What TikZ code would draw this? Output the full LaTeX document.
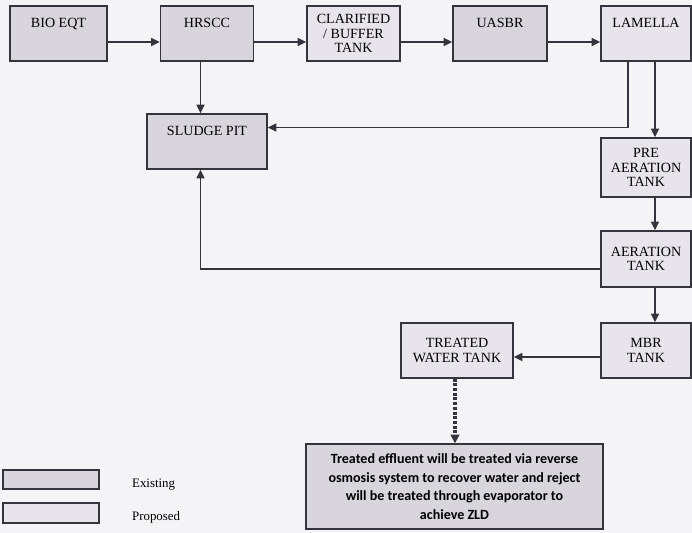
\documentclass[tikz,border=0pt]{standalone}
\usepackage{fontspec}
\setmainfont{Liberation Serif}
\newfontfamily\notefont{Carlito}
\usetikzlibrary{arrows.meta,calc}
\definecolor{paper}{HTML}{F4F3F6}
\definecolor{oldfill}{HTML}{D8D5DD}
\definecolor{newfill}{HTML}{E7E5EB}
\definecolor{ink}{HTML}{34343F}

\begin{document}
\begin{tikzpicture}[
  x=0.03cm, y=-0.03cm,
  font=\fontsize{12}{12.4}\selectfont,
  box/.style={rectangle, draw=ink, line width=1.2pt, align=center,
              inner sep=1pt, minimum width=2.7cm, minimum height=1.65cm},
  old/.style={box, fill=oldfill},
  new/.style={box, fill=newfill},
  lifted/.style={text depth=18pt},
  arr/.style={-{Triangle[length=2.6mm,width=2.4mm]}, draw=ink, line width=1.3pt},
  dotarr/.style={-{Triangle[length=2.6mm,width=2.6mm]}, draw=ink, line width=3pt,
                 dash pattern=on 2.6pt off 1.4pt}
]
  \path[use as bounding box, fill=paper] (0,0) rectangle (692,533);

  % top row
  \node[old, lifted, minimum width=2.91cm] (bio)     at (58.5,33.5) {BIO EQT};
  \node[old, lifted, minimum width=2.79cm] (hrscc)   at (207,33.5)  {HRSCC};
  \node[new, minimum width=2.79cm]         (clar)    at (353.5,33.5) {CLARIFIED\\/ BUFFER\\TANK};
  \node[old, lifted, minimum width=2.82cm] (uasbr)   at (500,33.5)  {UASBR};
  \node[new, lifted]                       (lamella) at (646,33.5)  {LAMELLA};

  % sludge and right column
  \node[old, lifted, minimum width=3.6cm]  (sludge)  at (207,141.5) {SLUDGE PIT};
  \node[new, minimum height=1.77cm]        (pre)     at (646,167.5) {PRE\\AERATION\\TANK};
  \node[new, minimum height=1.68cm]        (aer)     at (646,259)   {AERATION\\TANK};
  \node[new]                               (mbr)     at (646,350.5) {MBR\\TANK};
  \node[new, minimum width=3.36cm]         (treated) at (457,350.5) {TREATED\\WATER TANK};
  \node[old, minimum width=8.91cm, minimum height=2.55cm,
        font=\notefont\bfseries\fontsize{12}{15.8}\selectfont] (zld) at (454.5,486.5)
    {Treated effluent will be treated via reverse\\osmosis system to recover water and reject\\will be treated through evaporator to\\achieve ZLD};

  % legend
  \node[old, minimum width=2.88cm, minimum height=0.57cm] (legex) at (51,479.5) {};
  \node[new, minimum width=2.88cm, minimum height=0.6cm]  (legpr) at (51,513)   {};
  \node[anchor=base west, font=\fontsize{11}{12}\selectfont] (exlbl) at (128,487) {Existing};
  \node[anchor=base west, font=\fontsize{11}{12}\selectfont] (prlbl) at (128,520) {Proposed};

  % flow
  \draw[arr] ($(bio.east)+(0,8.5)$) -- ($(hrscc.west)+(0,8.5)$);
  \draw[arr] ($(hrscc.east)+(0,8.5)$) -- ($(clar.west)+(0,8.5)$);
  \draw[arr] ($(clar.east)+(0,8.5)$) -- ($(uasbr.west)+(0,8.5)$);
  \draw[arr] ($(uasbr.east)+(0,8.5)$) -- ($(lamella.west)+(0,8.5)$);
  \draw[arr] ($(hrscc.south)+(-6.5,0)$) -- ($(sludge.north)+(-6.5,0)$);
  \draw[arr] ($(lamella.south)+(-18,0)$) |- ($(sludge.east)+(0,-14)$);
  \draw[arr] ($(lamella.south)+(9,0)$) -- ($(pre.north)+(9,0)$);
  \draw[arr] ($(pre.south)+(9,0)$) -- ($(aer.north)+(9,0)$);
  \draw[arr] ($(aer.south)+(9,0)$) -- ($(mbr.north)+(9,0)$);
  \draw[arr] ($(aer.west)+(0,10)$) -| ($(sludge.south)+(-6.5,0)$);
  \draw[arr] ($(mbr.west)+(0,6.5)$) -- ($(treated.east)+(0,6.5)$);
  \draw[dotarr] ($(treated.south)+(-2,0)$) -- ($(zld.north)+(0.5,0)$);
\end{tikzpicture}
\end{document}
